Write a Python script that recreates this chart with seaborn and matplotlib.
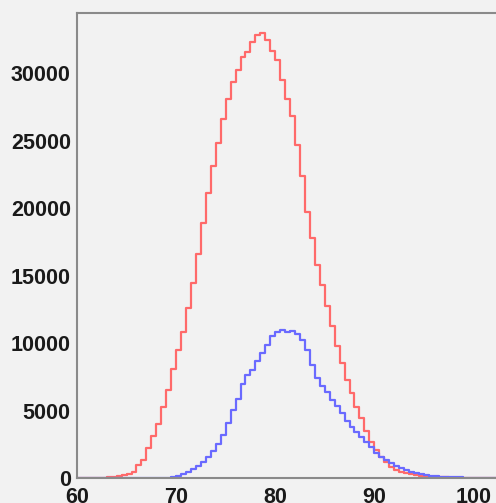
import numpy as np
import pandas as pd
import seaborn as sns
import matplotlib
matplotlib.use("Agg")
import matplotlib.pyplot as plt
from matplotlib.ticker import MultipleLocator

# bin width 0.5, first bin starts at 60
bin_start = 60.0
bin_width = 0.5

red_counts = [
    0, 0, 2, 5, 10, 20, 40, 70, 120, 200,            # 60.0 - 64.5
    330, 470, 970, 1340, 2230, 3120, 4010, 5280, 6540, 8100,   # 65.0 - 69.5
    9510, 10850, 12630, 14490, 16640, 18940, 21100, 23150, 24860, 26600,  # 70.0 - 74.5
    28080, 29370, 30250, 31200, 31570, 32320, 32860, 32960, 32490, 31670,  # 75.0 - 79.5
    30980, 29520, 28080, 26840, 24690, 22380, 19690, 17810, 15820, 14340,  # 80.0 - 84.5
    12780, 11240, 9760, 8520, 7230, 6290, 5300, 4430, 3490, 2700,          # 85.0 - 89.5
    2080, 1550, 1150, 850, 630, 470, 360, 280, 220, 170,                   # 90.0 - 94.5
    130, 100, 80, 60, 45, 35, 27, 20, 15, 11,                              # 95.0 - 99.5
    8, 6, 4, 3, 2, 1,                                                      # 100.0 - 102.5
]

blue_counts = [
    0, 0, 0, 0, 0, 0, 0, 0, 0, 0,                     # 60.0 - 64.5
    0, 0, 0, 0, 0, 0, 5, 15, 35, 70,                  # 65.0 - 69.5
    150, 300, 470, 670, 920, 1210, 1580, 2000, 2530, 3190,                 # 70.0 - 74.5
    4060, 5050, 5870, 6980, 7650, 8020, 8640, 9260, 9880, 10550,           # 75.0 - 79.5
    10800, 10940, 10800, 10870, 10700, 10200, 9500, 8400, 7410, 6790,      # 80.0 - 84.5
    6340, 5800, 5350, 4810, 4260, 3810, 3440, 3070, 2650, 2330,            # 85.0 - 89.5
    1880, 1580, 1340, 1090, 890, 720, 590, 470, 370, 290,                  # 90.0 - 94.5
    230, 180, 140, 110, 85, 65, 50, 38, 28, 21,                            # 95.0 - 99.5
    16, 12, 9, 7, 5, 4,                                                    # 100.0 - 102.5
]

x_ticks = [60, 70, 80, 90, 100]
y_ticks = [0, 5000, 10000, 15000, 20000, 25000, 30000]

n = len(red_counts)
centers = bin_start + bin_width * (np.arange(n) + 0.5)
df = pd.DataFrame({"x": centers, "red": red_counts, "blue": blue_counts})
bin_range = (bin_start, bin_start + bin_width * n)

sns.set_style("white")
plt.rcParams["font.family"] = ["Liberation Sans", "DejaVu Sans"]

bg = "#f2f2f2"
fig = plt.figure(figsize=(4.96, 5.03), dpi=100, facecolor=bg)
ax = fig.add_axes([77 / 496, 25 / 503, 1 - 77 / 496, (478 - 13) / 503])
ax.set_facecolor(bg)

sns.histplot(data=df, x="x", weights="red", binwidth=bin_width, binrange=bin_range,
             element="step", fill=False, color="#ff6a6a", linewidth=1.6, ax=ax)
sns.histplot(data=df, x="x", weights="blue", binwidth=bin_width, binrange=bin_range,
             element="step", fill=False, color="#6a6aff", linewidth=1.6, ax=ax)

ax.set_xlim(60, 60 + 419 / 9.91)
ax.set_ylim(0, 34480)
ax.set_xlabel("")
ax.set_ylabel("")

ax.set_xticks(x_ticks)
ax.set_yticks(y_ticks)
ax.xaxis.set_minor_locator(MultipleLocator(2))
ax.yaxis.set_minor_locator(MultipleLocator(1000))
ax.set_xticklabels([str(v) for v in x_ticks])
ax.set_yticklabels([str(v) for v in y_ticks])

spine_col = "#8a8a8a"
for s in ["left", "bottom", "top"]:
    ax.spines[s].set_color(spine_col)
    ax.spines[s].set_linewidth(1.5)
ax.spines["right"].set_visible(False)

ax.tick_params(axis="y", which="major", direction="in", length=13, width=1.3,
               color=spine_col, pad=4.5, labelsize=15.5, labelcolor="#1a1a1a")
ax.tick_params(axis="y", which="minor", direction="in", length=7, width=1.3,
               color=spine_col)
ax.tick_params(axis="x", which="major", direction="in", length=10, width=1.3,
               color=spine_col, pad=6.5, labelsize=15.5, labelcolor="#1a1a1a")
ax.tick_params(axis="x", which="minor", direction="in", length=5, width=1.3,
               color=spine_col)
ax.tick_params(top=False, right=False, which="both")
for lbl in ax.get_xticklabels() + ax.get_yticklabels():
    lbl.set_fontweight("bold")

fig.savefig("out.png", dpi=100, facecolor=bg)
